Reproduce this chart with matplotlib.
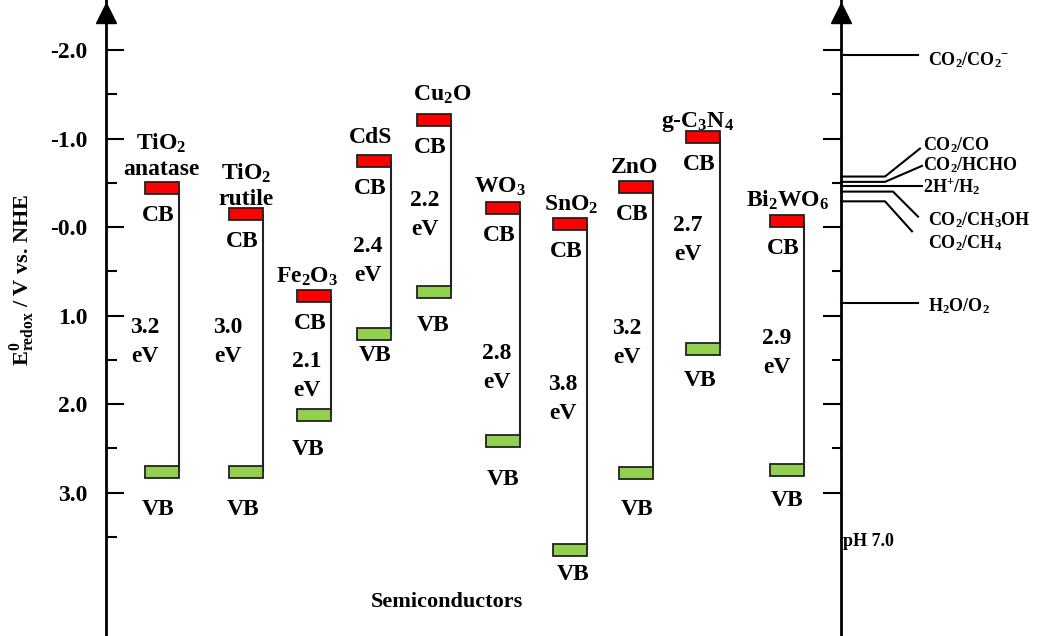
import matplotlib
matplotlib.use("Agg")
import matplotlib.pyplot as plt

plt.rcParams['font.family'] = ['Liberation Serif', 'DejaVu Serif']
plt.rcParams['font.weight'] = 'bold'
plt.rcParams['mathtext.fontset'] = 'custom'
plt.rcParams['mathtext.rm'] = 'Liberation Serif:bold'
plt.rcParams['mathtext.it'] = 'Liberation Serif:italic:bold'
plt.rcParams['mathtext.bf'] = 'Liberation Serif:bold'
plt.rcParams['mathtext.default'] = 'rm'

# ---- data (V vs. NHE) ----
materials = ['TiO$_2$\nanatase', 'TiO$_2$\nrutile', 'Fe$_2$O$_3$', 'CdS', 'Cu$_2$O',
             'WO$_3$', 'SnO$_2$', 'ZnO', 'g-C$_3$N$_4$', 'Bi$_2$WO$_6$']
cb_level = [-0.44, -0.15, 0.78, -0.75, -1.21, -0.22, -0.03, -0.45, -1.02, -0.07]
vb_level = [2.77, 2.77, 2.12, 1.21, 0.73, 2.42, 3.65, 2.78, 1.38, 2.75]
gap_text = ['3.2', '3.0', '2.1', '2.4', '2.2', '2.8', '3.8', '3.2', '2.7', '2.9']

redox_couples = ['CO$_2$/CO$_2$$^{-}$', 'CO$_2$/CO', 'CO$_2$/HCHO', '2H$^{+}$/H$_2$',
                 'CO$_2$/CH$_3$OH', 'CO$_2$/CH$_4$', 'H$_2$O/O$_2$']
redox_level = [-1.94, -0.57, -0.51, -0.46, -0.40, -0.29, 0.86]

tick_vals = [-2, -1, 0, 1, 2, 3]
tick_text = ['-2.0', '-1.0', '-0.0', '1.0', '2.0', '3.0']
minor_left = [-1.5, -0.5, 0.5, 1.5, 2.5, 3.5]
minor_right = [-1.5, -0.5, 0.5, 1.5, 2.5]

# ---- layout (pixels) ----
W, H = 1045, 636
x_left, x_right = 106, 841
px_zero, px_per_v = 227, 88.5
bar_x = [162, 246, 314, 374, 434, 503, 570, 636, 703, 787]
bar_w = 34
bar_h = 0.135
name_dx = [-1, 0, -7, -3, 8, -3, 1, -1, -5, 1]
name_dy = [13.5, 9, 13, 18, 19, 15, 14, 14, 10, 14]
vb_dx = [-4, -3, -6, 1, -1, 0, 3, 1, -3, 0]
vb_dy = [43, 43, 40, 27, 39, 44, 30, 42, 37, 36]
gap_dx = [-17, -18, -7, -6, -9, -6, -7, -9, -15, -10]
gap_mid = [1.27, 1.27, 1.66, 0.36, -0.16, 1.57, 1.92, 1.28, 0.12, 1.40]

bend_x = [918, 885, 885, 922, 893, 885, 918]
end_x = [918, 920, 922, 922, 918, 912, 918]
end_dy = [0, -28, -16, 0, 25, 30, 0]
lbl_x = [928, 923, 923, 923, 928, 928, 928]
lbl_dy = [5, -31, -17, 0, 29, 42, 3]

fs = 17

fig = plt.figure(figsize=(W / 100, H / 100), dpi=100)
ax = fig.add_axes([x_left / W, 0, (x_right - x_left) / W, 1])
ax.set_xlim(x_left, x_right)
ax.set_ylim((H - px_zero) / px_per_v, -px_zero / px_per_v)
ax2 = ax.twinx()
ax2.set_ylim(ax.get_ylim())

for s in ['top', 'bottom', 'right']:
    ax.spines[s].set_visible(False)
for s in ['top', 'bottom', 'left']:
    ax2.spines[s].set_visible(False)
ax.spines['left'].set_linewidth(2)
ax2.spines['right'].set_linewidth(2)

ax.set_yticks(tick_vals)
ax.set_yticklabels(tick_text)
ax.set_yticks(minor_left, minor=True)
ax.tick_params(axis='x', bottom=False, labelbottom=False)
ax.tick_params(axis='y', which='both', direction='in', width=1.5, left=True, right=False)
ax.tick_params(axis='y', which='major', length=13, pad=13.5, labelsize=fs)
ax.tick_params(axis='y', which='minor', length=8)

ax2.set_yticks(tick_vals)
ax2.set_yticks(minor_right, minor=True)
ax2.tick_params(axis='y', which='both', direction='in', width=1.5, labelright=False)
ax2.tick_params(axis='y', which='major', length=13)
ax2.tick_params(axis='y', which='minor', length=6.5)

# arrow heads on both axes
arrow_v = (13 - px_zero) / px_per_v
ax.plot([x_left, x_right], [arrow_v, arrow_v], ls='none', marker='^', ms=15,
        color='black', clip_on=False, zorder=5)

# band edges
right_edge = [x + bar_w / 2 for x in bar_x]
ax.vlines(right_edge, cb_level, vb_level, color='#222222', lw=1.5, zorder=2)
ax.bar(bar_x, bar_h, width=bar_w, bottom=[c - bar_h / 2 for c in cb_level],
       color='#ff0000', edgecolor='#222222', linewidth=1.3, zorder=3)
ax.bar(bar_x, bar_h, width=bar_w, bottom=[v - bar_h / 2 for v in vb_level],
       color='#92d050', edgecolor='#222222', linewidth=1.3, zorder=3)

for i, name in enumerate(materials):
    lines = name.split('\n')
    for k, line in enumerate(reversed(lines)):
        ax.annotate(line, (bar_x[i], cb_level[i]), xytext=(name_dx[i], name_dy[i] + 25 * k),
                    textcoords='offset pixels', ha='center', va='baseline', fontsize=fs)
    ax.annotate('CB', (bar_x[i], cb_level[i]), xytext=(-4, -33), textcoords='offset pixels',
                ha='center', va='baseline', fontsize=fs)
    ax.annotate('VB', (bar_x[i], vb_level[i]), xytext=(vb_dx[i], -vb_dy[i]),
                textcoords='offset pixels', ha='center', va='baseline', fontsize=fs)
    ax.annotate(gap_text[i], (bar_x[i], gap_mid[i]), xytext=(gap_dx[i], 6.5),
                textcoords='offset pixels', ha='center', va='baseline', fontsize=fs)
    ax.annotate('eV', (bar_x[i], gap_mid[i]), xytext=(gap_dx[i], -22.5),
                textcoords='offset pixels', ha='center', va='baseline', fontsize=fs)

# redox potentials on the pH 7 scale
for i, txt in enumerate(redox_couples):
    lv = redox_level[i]
    ax.plot([x_right, bend_x[i], end_x[i]], [lv, lv, lv + end_dy[i] / px_per_v],
            color='black', lw=1.5, clip_on=False)
    ax.annotate(txt, (lbl_x[i], lv + lbl_dy[i] / px_per_v), ha='left', va='center',
                fontsize=13, annotation_clip=False)

fig.text(22 / W, 1 - 280 / H, r'E$^{0}_{\mathrm{redox}}$ / V vs. NHE', rotation=90,
         ha='center', va='center', fontsize=16)
fig.text(447 / W, 1 - 602 / H, 'Semiconductors', ha='center', va='center', fontsize=16)
fig.text(843 / W, 1 - 542 / H, 'pH 7.0', ha='left', va='center', fontsize=13)

fig.savefig('out.png', dpi=100)
